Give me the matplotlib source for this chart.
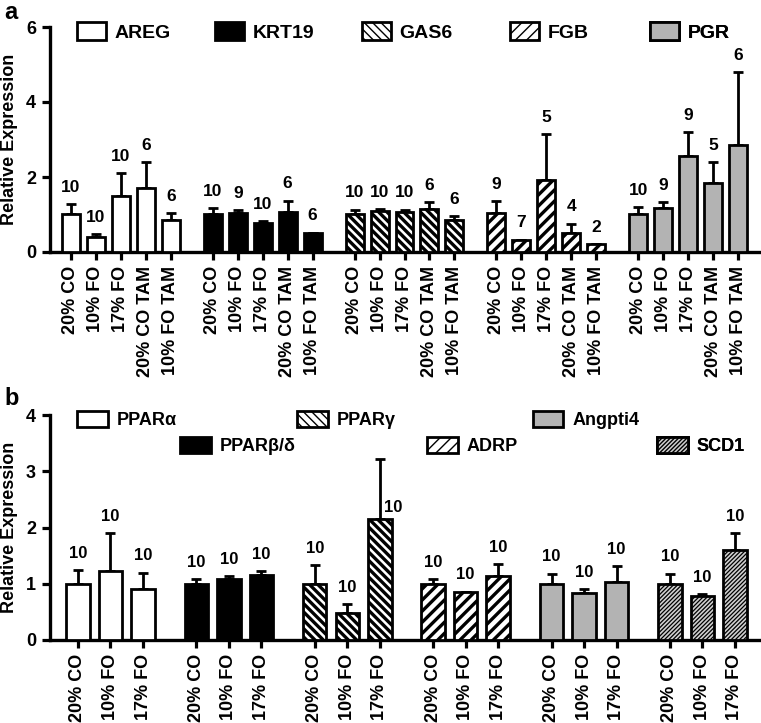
import matplotlib.pyplot as plt
from matplotlib.patches import Patch

plt.rcParams['font.family'] = ['Liberation Sans', 'DejaVu Sans']
plt.rcParams['font.weight'] = 'bold'
plt.rcParams['axes.labelweight'] = 'bold'

# ---- panel a data ----
conditions_a = ['20% CO', '10% FO', '17% FO', '20% CO TAM', '10% FO TAM']
genes_a = ['AREG', 'KRT19', 'GAS6', 'FGB', 'PGR']
mean_a = [
    [1.02, 0.40, 1.49, 1.71, 0.85],   # AREG
    [1.02, 1.05, 0.78, 1.07, 0.50],   # KRT19
    [1.02, 1.10, 1.06, 1.16, 0.85],   # GAS6
    [1.03, 0.33, 1.92, 0.51, 0.21],   # FGB
    [1.01, 1.18, 2.56, 1.85, 2.85],   # PGR
]
sem_a = [
    [0.26, 0.08, 0.61, 0.69, 0.19],
    [0.15, 0.07, 0.05, 0.30, 0.02],
    [0.11, 0.05, 0.07, 0.17, 0.11],
    [0.32, 0.00, 1.22, 0.25, 0.00],
    [0.19, 0.15, 0.64, 0.54, 1.95],
]
n_a = [
    [10, 10, 10, 6, 6],
    [10, 9, 10, 6, 6],
    [10, 10, 10, 6, 6],
    [9, 7, 5, 4, 2],
    [10, 9, 9, 5, 6],
]

# ---- panel b data ----
conditions_b = ['20% CO', '10% FO', '17% FO']
genes_b = ['PPARα', 'PPARβ/δ', 'PPARγ', 'ADRP', 'Angpti4', 'SCD1']
mean_b = [
    [1.00, 1.23, 0.90],   # PPARa
    [1.00, 1.09, 1.16],   # PPARb/d
    [1.00, 0.48, 2.16],   # PPARg
    [1.00, 0.86, 1.13],   # ADRP
    [1.00, 0.83, 1.04],   # Angpti4
    [1.00, 0.78, 1.60],   # SCD1
]
sem_b = [
    [0.25, 0.67, 0.30],
    [0.09, 0.04, 0.07],
    [0.33, 0.16, 1.05],
    [0.09, 0.00, 0.22],
    [0.18, 0.07, 0.27],
    [0.18, 0.03, 0.30],
]
n_b = [
    [10, 10, 10],
    [10, 10, 10],
    [10, 10, 10],
    [10, 10, 10],
    [10, 10, 10],
    [10, 10, 10],
]

# fill, hatch, hatch linewidth
styles = {
    'AREG': ('white', '', 1.5),
    'KRT19': ('black', '', 1.5),
    'GAS6': ('white', '\\\\\\\\', 2.4),
    'FGB': ('white', '///', 2.4),
    'PGR': ('#b3b3b3', '', 1.5),
    'PPARα': ('white', '', 1.5),
    'PPARβ/δ': ('black', '', 1.5),
    'PPARγ': ('white', '\\\\\\\\', 2.4),
    'ADRP': ('white', '///', 2.4),
    'Angpti4': ('#b3b3b3', '', 1.5),
    'SCD1': ('#cfcfcf', '////////', 0.9),
}

LW = 2.0


def make_patch(gene, **kw):
    fc, hatch, hlw = styles[gene]
    with plt.rc_context({'hatch.linewidth': hlw}):
        p = Patch(facecolor=fc, edgecolor='black', hatch=hatch, linewidth=LW, **kw)
    if hasattr(p, 'set_hatch_linewidth'):
        p.set_hatch_linewidth(hlw)
    return p


def draw_panel(ax, genes, means, sems, ns, conditions, period, fs_n, side=()):
    ticks, labels = [], []
    for g, gene in enumerate(genes):
        fc, hatch, hlw = styles[gene]
        xs = [g * period + i for i in range(len(conditions))]
        with plt.rc_context({'hatch.linewidth': hlw}):
            bars = ax.bar(xs, means[g], width=0.72, color=fc, edgecolor='black',
                          hatch=hatch, linewidth=LW, zorder=3)
        for b in bars:
            if hasattr(b, 'set_hatch_linewidth'):
                b.set_hatch_linewidth(hlw)
        ax.errorbar(xs, means[g], yerr=[[0] * len(xs), sems[g]], fmt='none',
                    ecolor='black', elinewidth=LW, capsize=3.8, capthick=LW, zorder=2)
        for i, x in enumerate(xs):
            top = means[g][i] + sems[g][i]
            if (g, i) in side:
                ax.annotate(str(ns[g][i]), (x + 0.4, means[g][i]), xytext=(0, 8),
                            textcoords='offset points', ha='center', va='center',
                            fontsize=fs_n, fontweight='bold')
            else:
                ax.annotate(str(ns[g][i]), (x, top), xytext=(0, 12),
                            textcoords='offset points', ha='center', va='center',
                            fontsize=fs_n, fontweight='bold')
        ticks += xs
        labels += conditions
    ax.set_xticks(ticks)
    ax.set_xticklabels(labels, rotation=90, fontsize=13, fontweight='bold')
    ax.spines['top'].set_visible(False)
    ax.spines['right'].set_visible(False)
    ax.spines['left'].set_linewidth(2.4)
    ax.spines['bottom'].set_linewidth(2.4)
    ax.tick_params(axis='both', direction='out', length=6, width=2.3, pad=4)
    ax.tick_params(axis='y', labelsize=13)
    ax.set_ylabel('Relative Expression', fontsize=13, fontweight='bold', labelpad=6)


def add_entry(ax, gene, x, y, fs, hl, hh, pad):
    leg = ax.legend(handles=[make_patch(gene, label=gene)], loc='center left',
                    bbox_to_anchor=(x, y), frameon=False, borderpad=0, borderaxespad=0,
                    handlelength=hl, handleheight=hh, handletextpad=pad,
                    prop={'size': fs, 'weight': 'bold'})
    ax.add_artist(leg)


fig = plt.figure(figsize=(7.61, 7.23), dpi=100)
ax_a = fig.add_axes([50 / 761, 471 / 723, 710 / 761, 225 / 723])
ax_b = fig.add_axes([50 / 761, 83 / 723, 710 / 761, 225 / 723])

draw_panel(ax_a, genes_a, mean_a, sem_a, n_a, conditions_a, 5.68, 12.5)
ax_a.set_xlim(-0.84, 27.6)
ax_a.set_ylim(0, 6)
ax_a.set_yticks([0, 2, 4, 6])
for gene, x in zip(genes_a, [0.038, 0.232, 0.439, 0.648, 0.845]):
    add_entry(ax_a, gene, x, 0.978, 14, 1.5, 1.0, 0.45)

draw_panel(ax_b, genes_b, mean_b, sem_b, n_b, conditions_b, 3.64, 12, side={(2, 2)})
ax_b.set_xlim(-0.86, 20.97)
ax_b.set_ylim(0, 4)
ax_b.set_yticks([0, 1, 2, 3, 4])
legend_b = [(0.038, 0.978), (0.183, 0.862), (0.348, 0.978),
            (0.531, 0.862), (0.680, 0.978), (0.855, 0.862)]
for gene, (x, y) in zip(genes_b, legend_b):
    add_entry(ax_b, gene, x, y, 13, 1.7, 0.95, 0.5)

fig.text(0.006, 0.998, 'a', fontsize=17, fontweight='bold', va='top', ha='left')
fig.text(0.006, 0.465, 'b', fontsize=17, fontweight='bold', va='top', ha='left')

fig.savefig('out.png', dpi=100)
